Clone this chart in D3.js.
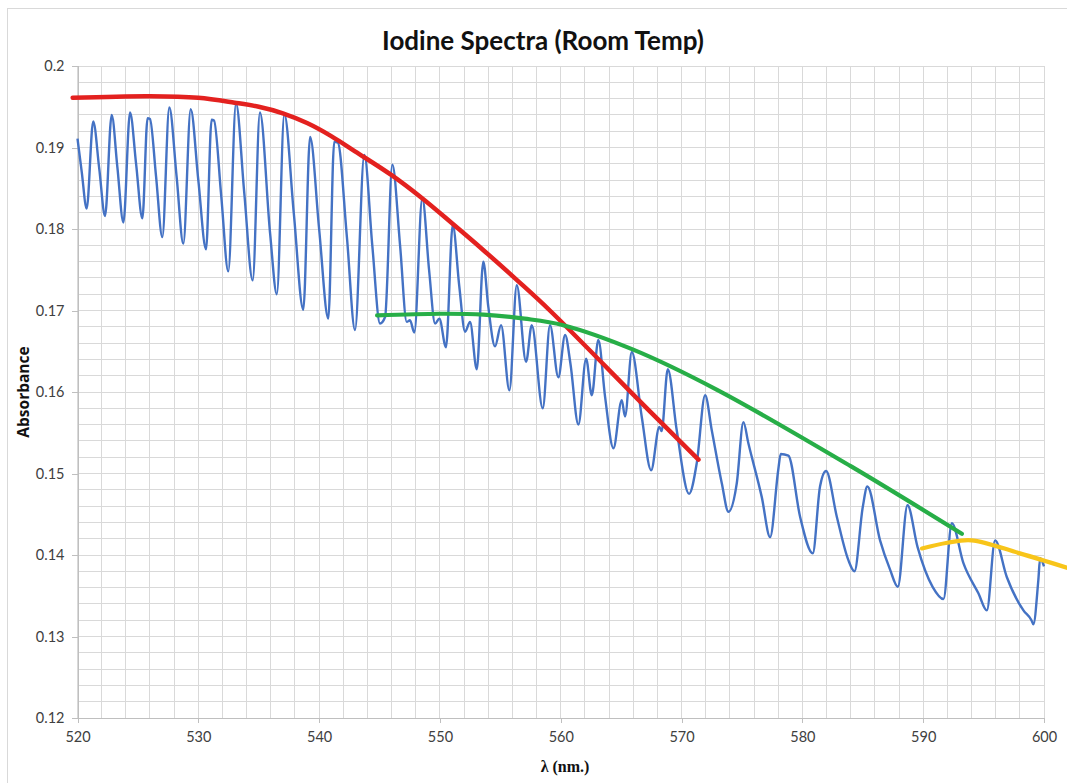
<!DOCTYPE html>
<html>
<head>
<meta charset="utf-8">
<script src="https://cdn.jsdelivr.net/npm/d3@7/dist/d3.min.js"></script>
<style>
  body { margin: 0; background: #fff; }
  svg { display: block; }
  .grid line { stroke: #d9d9d9; stroke-width: 1; shape-rendering: crispEdges; }
  .axis path, .axis line { stroke: #bfbfbf; shape-rendering: crispEdges; }
  .axis text { font-family: Lato, 'Open Sans', sans-serif; font-size: 14.5px; fill: #404040; }
</style>
</head>
<body>
<div id="canvas"></div>
<script>
// ---- DATA ----
// measured spectrum, read off the picture (nm, absorbance)
var wavelength = [
  520.00, 520.35, 520.76, 521.30, 521.80, 522.28, 522.83, 523.30, 523.80, 524.35,
  524.85, 525.37, 525.80, 526.00, 526.50, 527.02, 527.60, 528.20, 528.76, 529.37,
  530.00, 530.64, 531.10, 531.30, 531.90, 532.48, 533.12, 533.80, 534.50, 535.10,
  535.94, 536.50, 537.12, 537.90, 538.69, 539.25, 540.00, 540.76, 541.25, 541.55,
  542.30, 542.97, 543.74, 544.40, 545.04, 545.46, 546.06, 546.70, 547.25, 547.52,
  547.88, 548.54, 549.10, 549.60, 549.95, 550.50, 551.06, 551.60, 552.08, 552.49,
  553.05, 553.59, 554.00, 554.56, 555.06, 555.75, 556.36, 557.13, 557.60, 558.51,
  559.11, 559.80, 560.36, 560.80, 561.46, 562.10, 562.57, 563.11, 563.67, 564.36,
  565.05, 565.32, 565.88, 566.70, 567.48, 568.16, 568.35, 568.86, 569.60, 570.62,
  571.26, 571.95, 572.50, 573.33, 573.88, 574.57, 575.12, 575.53, 576.64, 577.33,
  578.00, 578.21, 578.84, 579.81, 580.86, 581.46, 581.96, 582.85, 583.80, 584.31,
  585.00, 585.38, 586.43, 587.26, 587.90, 588.70, 589.53, 590.78, 591.68, 592.37,
  593.33, 594.57, 595.27, 595.95, 596.92, 598.30, 598.96, 599.12, 599.53, 599.68,
  600.00
];
var absorbance = [
  0.1911, 0.1870, 0.1825, 0.1932, 0.1874, 0.1816, 0.1940, 0.1876, 0.1808, 0.1943,
  0.1880, 0.1813, 0.1936, 0.1935, 0.1865, 0.1790, 0.1949, 0.1865, 0.1782, 0.1947,
  0.1860, 0.1775, 0.1934, 0.1933, 0.1840, 0.1748, 0.1954, 0.1845, 0.1737, 0.1943,
  0.1795, 0.1720, 0.1941, 0.1820, 0.1701, 0.1913, 0.1800, 0.1690, 0.1907, 0.1906,
  0.1790, 0.1676, 0.1891, 0.1780, 0.1684, 0.1692, 0.1879, 0.1780, 0.1686, 0.1688,
  0.1673, 0.1838, 0.1750, 0.1684, 0.1690, 0.1655, 0.1805, 0.1730, 0.1674, 0.1686,
  0.1628, 0.1760, 0.1705, 0.1656, 0.1682, 0.1602, 0.1731, 0.1637, 0.1682, 0.1580,
  0.1682, 0.1618, 0.1670, 0.1635, 0.1560, 0.1641, 0.1596, 0.1664, 0.1594, 0.1531,
  0.1590, 0.1570, 0.1649, 0.1570, 0.1504, 0.1557, 0.1552, 0.1628, 0.1553, 0.1475,
  0.1513, 0.1596, 0.1553, 0.1488, 0.1453, 0.1488, 0.1563, 0.1537, 0.1471, 0.1422,
  0.1504, 0.1524, 0.1522, 0.1447, 0.1402, 0.1484, 0.1503, 0.1447, 0.1394, 0.1380,
  0.1459, 0.1484, 0.1418, 0.1382, 0.1361, 0.1461, 0.1410, 0.1361, 0.1346, 0.1439,
  0.1390, 0.1353, 0.1332, 0.1418, 0.1373, 0.1332, 0.1320, 0.1315, 0.1369, 0.1396,
  0.1386
];

// hand-drawn envelope curves
var redX = [519.6, 526, 530, 533, 535, 537, 539, 541, 543, 546, 548.5, 551, 553.6, 556.4, 559.1, 567.4, 571.4];
var redY = [0.1961, 0.1963, 0.1961, 0.1955, 0.1950, 0.1942, 0.1930, 0.1914, 0.1895, 0.1866, 0.1838, 0.1807, 0.1774, 0.1737, 0.1700, 0.1576, 0.1517];

var greenX = [544.8, 550, 553.6, 557, 560.2, 566.0, 572.9, 584.0, 593.2];
var greenY = [0.1694, 0.1696, 0.1695, 0.1690, 0.1682, 0.1652, 0.1603, 0.1509, 0.1426];

var yellowX = [589.9, 592, 594, 598, 602.2];
var yellowY = [0.1408, 0.1415, 0.1418, 0.1402, 0.1383];

var xTicks = [520, 530, 540, 550, 560, 570, 580, 590, 600];
var yTicks = [0.12, 0.13, 0.14, 0.15, 0.16, 0.17, 0.18, 0.19, 0.2];

// ---- CONVENTIONS ----
var outerWidth = 1067, outerHeight = 783;
var margin = {top: 66, right: 23, bottom: 65, left: 77.5};
var width = outerWidth - margin.left - margin.right,
    height = outerHeight - margin.top - margin.bottom;

var svg = d3.select('#canvas')
    .append('svg')
    .attr('width', outerWidth)
    .attr('height', outerHeight);

// chart frame
svg.append('rect')
    .attr('x', 7.5).attr('y', 8.5)
    .attr('width', 1100).attr('height', 800)
    .style('fill', 'none')
    .style('stroke', '#d9d9d9');

var plot = svg.append('g')
    .attr('transform', 'translate(' + margin.left + ',' + margin.top + ')');

// ---- SCALES ----
var scaleX = d3.scaleLinear().domain([520, 600]).range([0, width]);
var scaleY = d3.scaleLinear().domain([0.12, 0.2]).range([height, 0]);

// ---- GRID ----
var gridX = d3.range(0, 41).map(function(i){ return 520 + 2 * i; });
var gridY = d3.range(0, 41).map(function(i){ return +(0.12 + 0.002 * i).toFixed(3); });

var grid = plot.append('g').attr('class', 'grid');
grid.selectAll('.gx').data(gridX).enter().append('line')
    .attr('x1', function(d){ return scaleX(d); })
    .attr('x2', function(d){ return scaleX(d); })
    .attr('y1', 0).attr('y2', height);
grid.selectAll('.gy').data(gridY).enter().append('line')
    .attr('x1', 0).attr('x2', width)
    .attr('y1', function(d){ return scaleY(d); })
    .attr('y2', function(d){ return scaleY(d); });

// ---- AXES ----
var axisX = d3.axisBottom(scaleX)
    .tickValues(xTicks)
    .tickSize(5)
    .tickPadding(9)
    .tickFormat(d3.format('d'));
var axisY = d3.axisLeft(scaleY)
    .tickValues(yTicks)
    .tickSize(6)
    .tickPadding(7)
    .tickFormat(function(d){ return String(+d.toFixed(2)); });

plot.append('g').attr('class', 'axis axis-x')
    .attr('transform', 'translate(0,' + height + ')')
    .call(axisX)
    .call(function(g){ g.select('.domain').attr('d', 'M0,0.5H' + width); });
plot.append('g').attr('class', 'axis axis-y')
    .call(axisY)
    .call(function(g){ g.select('.domain').attr('d', 'M0.5,0V' + height); });

// ---- LINES ----
var spectrumLine = d3.line()
    .x(function(d){ return scaleX(d[0]); })
    .y(function(d){ return scaleY(d[1]); })
    .curve(d3.curveMonotoneX);

var fitLine = d3.line()
    .x(function(d){ return scaleX(d[0]); })
    .y(function(d){ return scaleY(d[1]); })
    .curve(d3.curveCatmullRom.alpha(0.5));

function pairs(xs, ys){
    return xs.map(function(x, i){ return [x, ys[i]]; });
}

plot.append('path')
    .datum(pairs(wavelength, absorbance))
    .attr('d', spectrumLine)
    .style('fill', 'none')
    .style('stroke', '#4472c4')
    .style('stroke-width', '2.4px')
    .style('stroke-linejoin', 'round');

var fits = [
    {x: redX, y: redY, color: '#e3211f', w: 4.5},
    {x: greenX, y: greenY, color: '#27ae47', w: 4.2},
    {x: yellowX, y: yellowY, color: '#f8c51a', w: 4.2}
];
fits.forEach(function(f){
    plot.append('path')
        .datum(pairs(f.x, f.y))
        .attr('d', fitLine)
        .style('fill', 'none')
        .style('stroke', f.color)
        .style('stroke-width', f.w + 'px')
        .style('stroke-linecap', 'round');
});

// ---- TEXT ----
svg.append('text')
    .attr('x', 543).attr('y', 50)
    .attr('text-anchor', 'middle')
    .style('font-family', 'Lato, "Open Sans", sans-serif')
    .style('font-weight', 'bold')
    .style('font-size', '26px')
    .style('fill', '#111')
    .text('Iodine Spectra (Room Temp)');

svg.append('text')
    .attr('transform', 'translate(29,392) rotate(-90)')
    .attr('text-anchor', 'middle')
    .style('font-family', '"Open Sans", Lato, sans-serif')
    .style('font-weight', 'bold')
    .style('font-size', '15.5px')
    .style('fill', '#111')
    .text('Absorbance');

svg.append('text')
    .attr('x', 565).attr('y', 772)
    .attr('text-anchor', 'middle')
    .style('font-family', '"Liberation Serif", "Times New Roman", serif')
    .style('font-weight', 'bold')
    .style('font-size', '16px')
    .style('fill', '#111')
    .text('λ (nm.)');
</script>
</body>
</html>
